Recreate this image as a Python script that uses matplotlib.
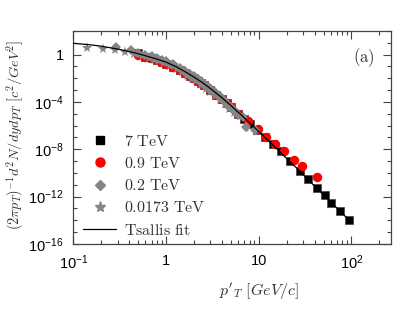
import numpy as np
import matplotlib
matplotlib.use("Agg")
import matplotlib.pyplot as plt
from matplotlib.ticker import FixedLocator, FixedFormatter, LogLocator, NullFormatter
from matplotlib.lines import Line2D

plt.rcParams['font.family'] = ['Liberation Sans', 'DejaVu Sans']
plt.rcParams['mathtext.fontset'] = 'cm'

# 7 TeV (black squares)
pt_7 = [0.5, 0.6, 0.7, 0.8, 0.9, 1.0, 1.2, 1.4, 1.6, 1.8, 2.0, 2.2, 2.4, 2.6, 3.0, 3.5,
        4.0, 4.5, 5.0, 6.0, 7.0, 8.0, 9.5, 11.7, 14.4, 17.3, 21.8, 27.9, 34.0,
        42.7, 52.4, 60.7, 75.7, 93.3]
y_7 = [1.4, 0.69, 0.48, 0.33, 0.25, 0.178, 0.095, 0.051, 0.028, 0.016, 9.7e-3, 6.0e-3,
       3.8e-3, 2.5e-3, 1.03e-3, 4.1e-4, 1.78e-4, 8.3e-5, 4.0e-5, 1.06e-5, 3.8e-6, 1.5e-6,
       4.4e-7, 1.0e-7, 2.8e-8, 6.8e-9, 1.1e-9, 1.6e-10, 3.2e-11, 5.4e-12,
       1.26e-12, 3.2e-13, 6.3e-14, 1.07e-14]

# 0.9 TeV (red circles)
pt_09 = [0.5, 0.6, 0.7, 0.8, 0.9, 1.0, 1.2, 1.4, 1.6, 1.8, 2.0, 2.2, 2.4, 2.6, 3.0, 3.5,
         4.0, 4.5, 5.0, 6.0, 7.7, 9.9, 12.1, 15.0, 18.9, 24.3, 29.6, 42.0]
y_09 = [0.9, 0.69, 0.48, 0.33, 0.25, 0.178, 0.095, 0.051, 0.028, 0.016, 9.7e-3, 6.0e-3,
        3.8e-3, 2.5e-3, 1.03e-3, 4.1e-4, 1.78e-4, 8.3e-5, 4.0e-5, 1.06e-5, 2.6e-6, 5.2e-7,
        1.0e-7, 2.8e-8, 6.8e-9, 1.26e-9, 4.2e-10, 4.3e-11]

# 0.2 TeV (gray diamonds)
pt_02 = [0.29, 0.42, 0.5, 0.6, 0.7, 0.8, 0.9, 1.0, 1.2, 1.4, 1.6, 1.8, 2.0, 2.2, 2.4,
         2.6, 2.8, 3.0, 3.4, 3.8, 4.2, 4.6, 5.0, 5.5, 6.0, 6.8, 7.3, 9.1]
y_02 = [4.8, 2.5, 1.38, 1.0, 0.72, 0.52, 0.38, 0.28, 0.15, 0.080, 0.044, 0.025,
        0.0148, 8.9e-3, 5.5e-3, 3.6e-3, 2.3e-3, 1.5e-3, 6.6e-4, 3.0e-4, 1.45e-4, 7.2e-5,
        3.8e-5, 1.7e-5, 8.5e-6, 5.5e-6, 7.9e-7, 4.0e-7]
err_pt_02 = [7.3, 9.1]
err_y_02 = [7.9e-7, 4.0e-7]
err_lo_02 = [4.0e-7, 2.0e-7]
err_hi_02 = [2.0e-7, 1.0e-7]

# 0.0173 TeV (gray stars)
pt_0173 = [0.14, 0.21, 0.28, 0.36, 0.45, 0.55, 0.65, 0.75, 0.85, 0.95, 1.1, 1.3, 1.5,
           1.7, 1.9, 2.1, 2.4, 2.7, 3.0, 3.4, 3.8, 4.3, 4.8, 5.4]
y_0173 = [3.7, 3.0, 2.3, 1.66, 1.17, 0.79, 0.54, 0.37, 0.27, 0.195, 0.12, 0.060, 0.032,
          0.017, 9.5e-3, 5.5e-3, 2.6e-3, 1.3e-3, 7.1e-4, 3.2e-4, 1.5e-4, 6.3e-5, 2.8e-5,
          1.1e-5]

# Tsallis fit
pt_fit = [0.1, 0.15, 0.2, 0.3, 0.4, 0.5, 0.6, 0.8, 1.0, 1.3, 1.6, 2.0, 2.5, 3.0, 4.0,
          5.0, 6.0, 8.0, 10, 13, 16, 20, 25, 30, 40, 50, 60, 80, 100]
y_fit = [9.1, 6.9, 5.2, 3.0, 1.86, 1.20, 0.81, 0.42, 0.234, 0.091, 0.037, 0.0129,
         4.1e-3, 1.41e-3, 2.34e-4, 5.1e-5, 1.38e-5, 1.74e-6, 3.2e-7, 4.4e-8, 9.5e-9,
         1.7e-9, 3.2e-10, 7.4e-11, 7.9e-12, 1.41e-12, 3.5e-13, 3.7e-14, 6.6e-15]

labels = ['7 TeV', '0.9 TeV', '0.2 TeV', '0.0173 TeV', 'Tsallis fit']

gray = '#858585'
txt = '#333333'

fig = plt.figure(figsize=(4.15, 3.09), dpi=100)
ax = fig.add_axes([0.1766, 0.2104, 0.7648, 0.6893])

ax.plot(pt_7, y_7, 's', color='black', ms=5.2, mec='#444444', mew=0.5, zorder=3)
ax.plot(pt_09, y_09, 'o', color='red', ms=6.8, mew=0, zorder=4)
ax.errorbar(err_pt_02, err_y_02, yerr=[err_lo_02, err_hi_02], fmt='none',
            ecolor=gray, elinewidth=0.8, capsize=1.5, zorder=5)
ax.plot(pt_02, y_02, 'D', color=gray, ms=5.2, mew=0, zorder=5)
ax.plot(pt_0173, y_0173, '*', color=gray, ms=8, mew=0, zorder=6)
ax.plot(pt_fit, y_fit, '-', color='black', lw=0.9, zorder=7)

ax.set_xscale('log')
ax.set_yscale('log')
ax.set_xlim(0.1, 265)
ax.set_ylim(1e-16, 1e2)

ax.xaxis.set_major_locator(FixedLocator([0.1, 1, 10, 100]))
ax.xaxis.set_major_formatter(FixedFormatter([r'$\mathregular{10^{-1}}$', '1', '10',
                                             r'$\mathregular{10^{2}}$']))
ax.xaxis.set_minor_locator(LogLocator(base=10, subs=np.arange(2, 10), numticks=20))
ax.xaxis.set_minor_formatter(NullFormatter())
ax.yaxis.set_major_locator(FixedLocator([1e-16, 1e-12, 1e-8, 1e-4, 1]))
ax.yaxis.set_major_formatter(FixedFormatter([r'$\mathregular{10^{-16}}$',
                                             r'$\mathregular{10^{-12}}$',
                                             r'$\mathregular{10^{-8}}$',
                                             r'$\mathregular{10^{-4}}$', '1']))
ax.yaxis.set_minor_locator(LogLocator(base=10, subs=(1.0,), numticks=40))
ax.yaxis.set_minor_formatter(NullFormatter())

ax.tick_params(which='both', direction='in', top=True, right=True, colors='#444444',
               labelcolor='black', labelsize=10.5, width=0.8)
ax.tick_params(which='major', length=6, pad=7)
ax.tick_params(which='minor', length=3)
for s in ax.spines.values():
    s.set_color('#444444')
    s.set_linewidth(0.9)

ax.set_xlabel(r"$p'_T\ [GeV/c]$", fontsize=11.5, color=txt)
ax.xaxis.set_label_coords(0.585, -0.175)
ax.set_ylabel(r'$(2\pi p_T)^{-1} d^2N/dydp_T\ [c^2/GeV^2]$', fontsize=10.3, color=txt)
ax.yaxis.set_label_coords(-0.15, 0.51)

ax.text(0.915, 0.875, r'$\mathrm{(a)}$', transform=ax.transAxes, fontsize=12,
        color=txt, ha='center', va='center')

handles = [
    Line2D([], [], ls='none', marker='s', color='black', ms=5.5),
    Line2D([], [], ls='none', marker='o', color='red', ms=6.5),
    Line2D([], [], ls='none', marker='D', color=gray, ms=5.2),
    Line2D([], [], ls='none', marker='*', color=gray, ms=8),
    Line2D([], [], ls='-', color='black', lw=0.9),
]
leg = ax.legend(handles, [r'$\mathrm{' + l.replace(' ', r'\ ') + '}$' for l in labels],
                loc='lower left', bbox_to_anchor=(0.03, 0.03), frameon=False,
                borderpad=0, borderaxespad=0, handlelength=2.1, handletextpad=0.5,
                labelspacing=0.45, fontsize=11.5)
for t in leg.get_texts():
    t.set_color(txt)

fig.savefig('out.png', dpi=100)
